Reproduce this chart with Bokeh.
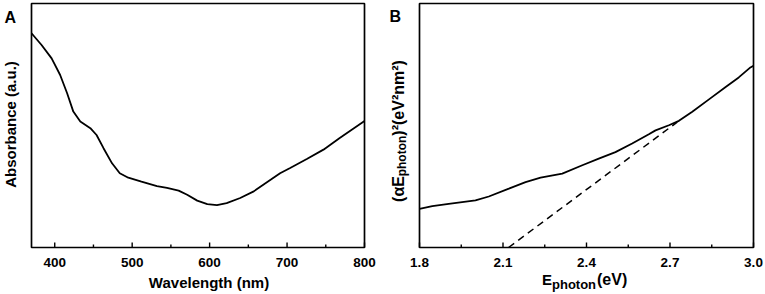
import math
from bokeh.plotting import figure
from bokeh.models import Label, Range1d
from bokeh.layouts import row
from bokeh.embed import file_html
from bokeh.resources import INLINE

# ---------------- data ----------------
# Panel A: UV-vis absorbance
wavelength_nm = [370, 383, 396, 407, 416, 424, 433, 446, 454, 463,
                 474, 484, 495, 512, 532, 545, 560, 571, 584, 597,
                 609.5, 622, 639.5, 657, 674, 691, 704, 725.5, 747, 768, 800]
absorbance_au = [0.878, 0.830, 0.775, 0.707, 0.632, 0.557, 0.516, 0.489, 0.461, 0.407,
                 0.345, 0.304, 0.286, 0.270, 0.252, 0.244, 0.233, 0.216, 0.192, 0.178,
                 0.174, 0.182, 0.203, 0.230, 0.267, 0.304, 0.326, 0.363, 0.401, 0.449, 0.518]

# Panel B: Tauc plot
photon_energy_ev = [1.80, 1.846, 1.905, 1.953, 2.001, 2.049, 2.121, 2.181, 2.235, 2.313,
                    2.385, 2.444, 2.504, 2.564, 2.624, 2.648, 2.696, 2.732, 2.780, 2.840,
                    2.900, 2.947, 2.989, 3.0]
tauc_value = [0.158, 0.170, 0.179, 0.186, 0.193, 0.209, 0.241, 0.268, 0.286, 0.303,
              0.337, 0.364, 0.391, 0.426, 0.464, 0.480, 0.501, 0.519, 0.556, 0.607,
              0.658, 0.697, 0.738, 0.745]
tangent_energy_ev = [2.12, 2.726]
tangent_value = [0.0, 0.514]

a_major_ticks = [400, 500, 600, 700, 800]
a_major_labels = ["400", "500", "600", "700", "800"]
a_minor_ticks = [450, 550, 650, 750]
b_major_ticks = [1.8, 2.1, 2.4, 2.7, 3.0]
b_major_labels = ["1.8", "2.1", "2.4", "2.7", "3.0"]
b_minor_ticks = [1.95, 2.25, 2.55, 2.85]

a_xlim = (370, 800)
b_xlim = (1.8, 3.0)
ylim = (0.0, 1.0)

# ---------------- layout (pixels) ----------------
FONT = "Liberation Sans"
H = 294
F_TOP, F_BOT = 3.0, 247.0            # frame top / bottom (canvas px)
A_W, A_FL, A_FR = 385, 31.0, 364.0   # panel A width, frame left/right
B_W, B_FL, B_FR = 380, 34.0, 368.0   # panel B width, frame left/right (local)
B_OFF = A_W
DY = -4.0   # correction of label baseline (horizontal texts)
DX = -5.0   # correction of label baseline (rotated texts)


class Panel:
    def __init__(self, width, fl, fr, xlim, off=0):
        self.off = off
        self.kx = (fr - fl) / (xlim[1] - xlim[0])
        self.ky = (F_BOT - F_TOP) / (ylim[1] - ylim[0])
        self.fl = fl
        self.xlim = xlim
        x0 = xlim[0] - fl / self.kx
        x1 = xlim[1] + (width - fr) / self.kx
        y0 = ylim[0] - (H - F_BOT) / self.ky
        y1 = ylim[1] + F_TOP / self.ky
        p = figure(width=width, height=H, x_range=Range1d(x0, x1), y_range=Range1d(y0, y1),
                   output_backend="svg", toolbar_location=None,
                   x_axis_location=None, y_axis_location=None,
                   min_border=0)
        p.grid.visible = False
        p.outline_line_color = None
        p.background_fill_color = "white"
        p.border_fill_color = "white"
        self.p = p

    def X(self, cx):  # canvas px -> data x
        return self.xlim[0] + (cx - self.off - self.fl) / self.kx

    def Y(self, cy):  # canvas px -> data y
        return ylim[0] + (F_BOT - cy) / self.ky

    def frame(self, major, labels, minor):
        p = self.p
        p.quad(left=[self.xlim[0]], right=[self.xlim[1]], bottom=[ylim[0]], top=[ylim[1]],
               fill_color=None, line_color="black", line_width=1.7)
        p.segment(x0=major, y0=[ylim[0]] * len(major), x1=major,
                  y1=[ylim[0] + 5 / self.ky] * len(major), line_color="black", line_width=1.4)
        p.segment(x0=minor, y0=[ylim[0]] * len(minor), x1=minor,
                  y1=[ylim[0] + 3 / self.ky] * len(minor), line_color="black", line_width=1.4)
        for v, s in zip(major, labels):
            self.label(None, 265.5, s, "13.5px", align="center", x_data=v)

    def label(self, cx, cy, s, size, angle=0.0, align="left", baseline="alphabetic", x_data=None):
        if angle:
            cx = cx + DX
        else:
            cy = cy + DY
        x = x_data if x_data is not None else self.X(cx)
        self.p.add_layout(Label(x=x, y=self.Y(cy), text=s, text_font=FONT,
                                text_font_style="bold", text_font_size=size,
                                text_color="black", angle=angle, angle_units="rad",
                                text_align=align, text_baseline=baseline))


# ---------------- panel A ----------------
A = Panel(A_W, A_FL, A_FR, a_xlim)
A.frame(a_major_ticks, a_major_labels, a_minor_ticks)
A.p.line(wavelength_nm, absorbance_au, line_color="black", line_width=1.8)
A.label(4, 20.5, "A", "16px")
A.label(208.5, 286, "Wavelength (nm)", "15px", align="center")
A.label(15, 124, "Absorbance (a.u.)", "15px", angle=math.pi / 2, align="center")

# ---------------- panel B ----------------
B = Panel(B_W, B_FL, B_FR, b_xlim, off=B_OFF)
B.frame(b_major_ticks, b_major_labels, b_minor_ticks)
B.p.line(photon_energy_ev, tauc_value, line_color="black", line_width=1.8)
B.p.line(tangent_energy_ev, tangent_value, line_color="black", line_width=1.5,
         line_dash="7 5")
B.label(389, 20, "B", "16px")

# x title: E_photon(eV)
B.label(541.5, 283, "E", "15px")
B.label(551.5, 288, "photon", "13px")
B.label(596.5, 283, "(eV)", "16px")

# y title: (αE_photon)^2(eV^2nm^2), rotated, reading upwards
w1 = 16 * (0.333 + 0.60 + 0.667)
w2 = 12 * 3.388
w3 = 16 * 4.721
start = 130.5 + (w1 + w2 + w3) / 2
base_x = 403
B.label(base_x, start, "(\u03b1E", "16px", angle=math.pi / 2)
B.label(base_x + 3, start - w1, "photon", "12px", angle=math.pi / 2)
B.label(base_x, start - w1 - w2, ")\u00b2(eV\u00b2nm\u00b2)", "16px", angle=math.pi / 2)

layout = row(A.p, B.p)
open("out.html", "w").write(file_html(layout, INLINE))
